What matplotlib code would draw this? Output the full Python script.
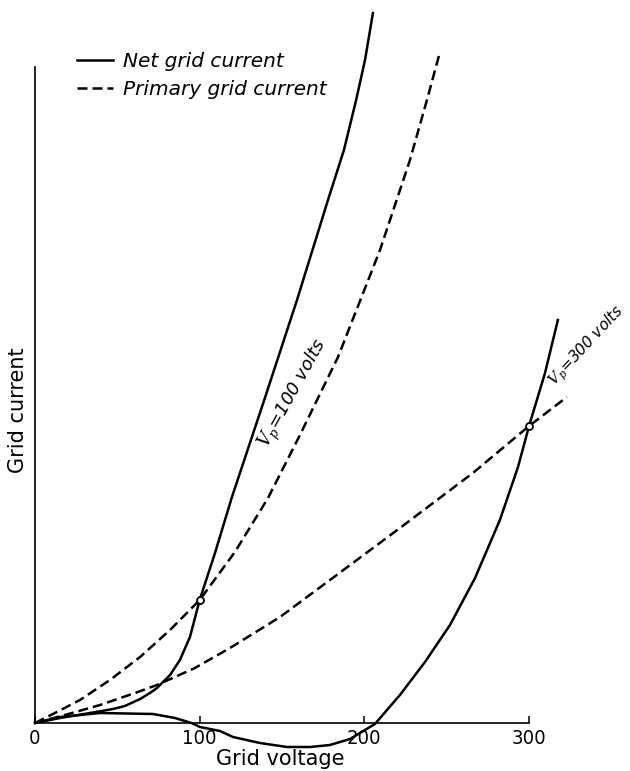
import matplotlib
matplotlib.use("Agg")
import matplotlib.pyplot as plt

plt.rcParams['mathtext.fontset'] = 'dejavuserif'

# Grid voltage (V) and grid current (arbitrary units)
net100_v = [0, 15.2, 33.4, 47.4, 54.6, 63.8, 69.8, 74.1, 82.0, 88.0, 94.1, 100, 109.3,
            119.6, 139.6, 159.1, 177.9, 187.6, 195.0, 200.4, 205.2]
net100_i = [0, 0.05, 0.10, 0.14, 0.17, 0.24, 0.30, 0.35, 0.48, 0.63, 0.86, 1.23, 1.70,
            2.26, 3.25, 4.23, 5.23, 5.73, 6.23, 6.63, 7.10]

prim100_v = [0, 12.1, 27.3, 45.5, 63.8, 82.0, 100, 121.4, 141.5, 160.9, 184.0, 209.5,
             227.7, 238.0, 245.9]
prim100_i = [0, 0.10, 0.23, 0.43, 0.66, 0.93, 1.23, 1.71, 2.25, 2.88, 3.66, 4.73,
             5.63, 6.23, 6.71]

prim300_v = [0, 18.2, 39.5, 60.7, 74.1, 97.1, 118.4, 148.8, 179.1, 221.6, 265.9, 300, 323.0]
prim300_i = [0, 0.08, 0.18, 0.30, 0.38, 0.55, 0.75, 1.06, 1.43, 1.95, 2.50, 2.97, 3.26]

net300_v = [0, 15.2, 39.5, 71.6, 85.0, 95.0, 100.2, 112.3, 120.2, 136.6, 153.0, 167.0,
            179.1, 191.3, 206.4, 221.6, 236.8, 252.0, 267.2, 282.3, 293.3, 300, 309.7, 317.5]
net300_i = [0, 0.06, 0.10, 0.09, 0.05, 0.0, -0.04, -0.08, -0.14, -0.20, -0.24, -0.24,
            -0.22, -0.16, -0.01, 0.28, 0.61, 0.98, 1.45, 2.03, 2.56, 2.97, 3.50, 4.03]

cross_v = [100, 300]
cross_i = [1.23, 2.97]

xticks = [0, 100, 200, 300]
xtick_labels = ['0', '100', '200', '300']

fig = plt.figure(figsize=(6.3, 7.71), dpi=100)
ax = fig.add_axes([0, 0, 1, 1])
ax.set_xlim(-21.25, 361.3)
ax.set_ylim(-0.48, 7.23)

lw = 1.8
dash = (4, 2)
ln_net, = ax.plot(net100_v, net100_i, color='black', lw=lw, solid_joinstyle='round')
ax.plot(net300_v, net300_i, color='black', lw=lw, solid_joinstyle='round')
ln_prim, = ax.plot(prim100_v, prim100_i, color='black', lw=lw, dashes=dash)
ax.plot(prim300_v, prim300_i, color='black', lw=lw, dashes=dash)
ax.plot(cross_v, cross_i, 'o', ms=5, mfc='white', mec='black', mew=1.3, zorder=5)

for s in ['top', 'right']:
    ax.spines[s].set_visible(False)
ax.spines['left'].set_position(('data', 0))
ax.spines['bottom'].set_position(('data', 0))
ax.spines['left'].set_bounds(0, 6.56)
ax.spines['bottom'].set_bounds(0, 300)
ax.spines['left'].set_linewidth(1.2)
ax.spines['bottom'].set_linewidth(1.2)
ax.set_yticks([])
ax.set_xticks(xticks)
ax.set_xticklabels(xtick_labels, fontsize=14.5, fontstretch='condensed')
ax.tick_params(axis='x', direction='in', length=5, width=1.1, pad=4)
for t in ax.get_xticklabels():
    if t.get_text() == '200':
        t.set_bbox(dict(facecolor='white', edgecolor='none', pad=0.5))
        t.set_zorder(6)

ax.set_xlabel('Grid voltage', fontsize=15)
ax.xaxis.set_label_coords(280 / 630, (771 - 759) / 771)
ax.xaxis.label.set_va('center')
ax.set_ylabel('Grid current', fontsize=15)
ax.yaxis.set_label_coords(18 / 630, (771 - 410) / 771)
ax.yaxis.label.set_va('center')

ax.text(157.3, 3.29, r'$V_p$=100 volts', rotation=61, rotation_mode='anchor',
        ha='center', va='center', fontsize=13, style='italic')
ax.text(335.0, 3.77, r'$V_p$=300 volts', rotation=47, rotation_mode='anchor',
        ha='center', va='center', fontsize=11, style='italic')

leg = ax.legend([ln_net, ln_prim], ['Net grid current', 'Primary grid current'],
                loc='upper left', bbox_to_anchor=(77 / 630, 1 - 52 / 771),
                bbox_transform=fig.transFigure, frameon=False, borderpad=0,
                borderaxespad=0, handlelength=1.8, handletextpad=0.5,
                labelspacing=0.46, prop=dict(size=14.5, style='italic'))

fig.savefig('out.png', dpi=100)
